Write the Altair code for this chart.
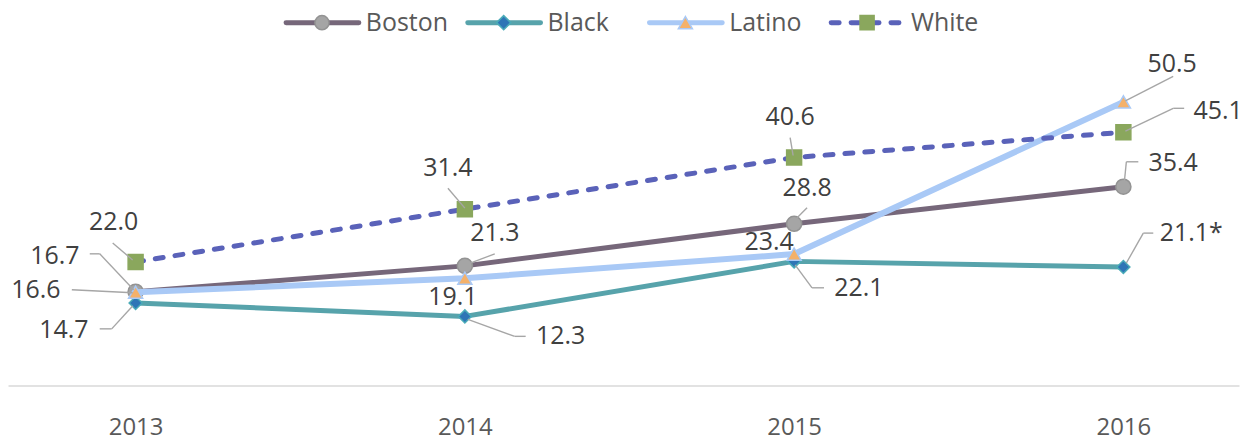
import altair as alt
import pandas as pd

# ---- data ----
years = ["2013", "2014", "2015", "2016"]
series = ["Boston", "Black", "Latino", "White"]
boston = [16.7, 21.3, 28.8, 35.4]
black = [14.7, 12.3, 22.1, 21.1]
latino = [16.6, 19.1, 23.4, 50.5]
white = [22.0, 31.4, 40.6, 45.1]
label_suffix = {("Black", "2016"): "*"}

values = {"Boston": boston, "Black": black, "Latino": latino, "White": white}

# ---- styles ----
FONT = "Open Sans"
line_color = {"Boston": "#76677a", "Black": "#57a3ab", "Latino": "#a9c9f6", "White": "#5a62b9"}
line_width = {"Boston": 5, "Black": 5, "Latino": 6, "White": 5}
line_dash = {"White": [8, 12]}
marker_shape = {"Boston": "circle", "Black": "diamond", "Latino": "triangle-up", "White": "square"}
marker_fill = {"Boston": "#a5a5a5", "Black": "#2e75b6", "Latino": "#f4b16a", "White": "#8aa75d"}
marker_stroke = {"Boston": "#939393", "Black": "#4aabb8", "Latino": "#a9c9f6", "White": "#8aa75d"}
marker_size = {"Boston": 230, "Black": 170, "Latino": 200, "White": 225}

# label offsets (dx, dy) in pixels relative to the data point
label_offset = {
    "Boston": [(-81, -36), (30, -33), (13, -36), (50, -24)],
    "Black": [(-72, 27), (96, 20), (65, 26.5), (68, -34)],
    "Latino": [(-100, -2.5), (-12, 19), (-25, -12), (49, -38.5)],
    "White": [(-22, -40), (-17, -41), (-4, -41), (95, -21)],
}
# leader segments (x1, y1, x2, y2) pixel offsets relative to the data point
leaders = {
    ("Boston", 0): [(-46, -38, -36, -38), (-36, -38, -2, -2)],
    ("Latino", 0): [(-64, -2.5, -3, 0.5)],
    ("Black", 0): [(-36, 26, -24, 26), (-24, 26, -3, 3)],
    ("White", 0): [(-23, -19, -3, -2)],
    ("Boston", 1): [(30, -12, 6, -3)],
    ("Black", 1): [(61, 20, 50, 20), (50, 20, 3, 3)],
    ("White", 1): [(-17, -21, 0, -1)],
    ("Boston", 2): [(13, -16, 3, -6)],
    ("Black", 2): [(30, 26.5, 18, 26.5), (18, 26.5, 1, 3.5)],
    ("White", 2): [(-4, -20, -1, -2)],
    ("Latino", 3): [(50, -25.5, 2, -1)],
    ("White", 3): [(61, -24, 50, -24), (50, -24, 2, -1)],
    ("Boston", 3): [(15, -25, 3, -25), (3, -25, 1, -5)],
    ("Black", 3): [(30, -34, 20, -34), (20, -34, 3, -4)],
}

W = 1235
H = 338

x_scale = alt.Scale(type="point", domain=years, padding=0.3694, align=0.5246)
y_scale = alt.Scale(domain=[0, 60], nice=False, zero=True)
x_enc = alt.X(
    "year:O",
    scale=x_scale,
    axis=alt.Axis(
        title=None, domainColor="#d9d9d9", domainWidth=1.5, ticks=False, grid=False,
        labelFont=FONT, labelFontSize=24, labelColor="#595959", labelPadding=30, labelAngle=0,
    ),
)
y_enc = alt.Y("value:Q", scale=y_scale, axis=None)

layers = []
for s in series:
    df = pd.DataFrame({"year": years, "value": values[s], "series": s})
    base = alt.Chart(df)
    lkw = dict(color=line_color[s], strokeWidth=line_width[s], strokeCap="round", strokeJoin="round")
    if s in line_dash:
        lkw["strokeDash"] = line_dash[s]
    layers.append(base.mark_line(**lkw).encode(x=x_enc, y=y_enc))
    layers.append(
        base.mark_point(
            shape=marker_shape[s], filled=True, fill=marker_fill[s], stroke=marker_stroke[s],
            strokeWidth=1.5, size=marker_size[s], opacity=1,
        ).encode(x=x_enc, y=y_enc)
    )

for (s, i), segs in leaders.items():
    df = pd.DataFrame({"year": [years[i]], "value": [values[s][i]]})
    for (a, b, c, d) in segs:
        layers.append(
            alt.Chart(df)
            .mark_rule(color="#a6a6a6", strokeWidth=1.4, xOffset=c, yOffset=d, x2Offset=a, y2Offset=b)
            .encode(x=x_enc, x2=alt.X2("year"), y=y_enc, y2=alt.Y2("value"))
        )

for s in series:
    for i, y in enumerate(years):
        v = values[s][i]
        lab = f"{v:.1f}" + label_suffix.get((s, y), "")
        df = pd.DataFrame({"year": [y], "value": [v], "label": [lab]})
        dx, dy = label_offset[s][i]
        layers.append(
            alt.Chart(df)
            .mark_text(dx=dx, dy=dy, font=FONT, fontSize=25, color="#404040", align="center", baseline="middle")
            .encode(x=x_enc, y=y_enc, text="label:N")
        )

main = alt.layer(*layers).properties(width=W, height=H)

# ---- legend (entries in series order, evenly spaced) ----
leg_df = pd.DataFrame({"series": series, "idx": list(range(len(series)))})
lx = alt.X("idx:Q", scale=alt.Scale(domain=[-1.728, 5.047], nice=False, zero=False), axis=None)
LY = 14
leg_rule = alt.Chart(leg_df).mark_rule(strokeCap="round", xOffset=-36, x2Offset=37).encode(
    x=lx,
    x2=alt.X2("idx"),
    y=alt.value(LY),
    color=alt.Color("series:N", scale=alt.Scale(domain=series, range=[line_color[s] for s in series]), legend=None),
    strokeDash=alt.StrokeDash(
        "series:N", scale=alt.Scale(domain=series, range=[line_dash.get(s, [1, 0]) for s in series]), legend=None
    ),
    strokeWidth=alt.StrokeWidth(
        "series:N", scale=alt.Scale(domain=series, range=[line_width[s] for s in series]), legend=None
    ),
)
leg_pts = alt.Chart(leg_df).mark_point(filled=True, opacity=1, strokeWidth=1.5, size=200).encode(
    x=lx,
    y=alt.value(LY),
    shape=alt.Shape("series:N", scale=alt.Scale(domain=series, range=[marker_shape[s] for s in series]), legend=None),
    fill=alt.Fill("series:N", scale=alt.Scale(domain=series, range=[marker_fill[s] for s in series]), legend=None),
    stroke=alt.Stroke("series:N", scale=alt.Scale(domain=series, range=[marker_stroke[s] for s in series]), legend=None),
)
leg_txt = alt.Chart(leg_df).mark_text(
    align="left", baseline="middle", dx=44, font=FONT, fontSize=25, color="#595959"
).encode(x=lx, y=alt.value(LY), text="series:N")

legend = alt.layer(leg_rule, leg_pts, leg_txt).properties(width=W, height=30)

chart = (
    alt.vconcat(legend, main, spacing=10)
    .resolve_scale(x="independent", y="independent", color="independent", shape="independent",
                   fill="independent", stroke="independent", strokeDash="independent", strokeWidth="independent")
    .properties(padding={"left": 0, "top": 0, "right": 0, "bottom": 0}, background="white")
    .configure_view(stroke=None)
)

chart.save("out.html", embed_options={"renderer": "svg", "actions": False})
